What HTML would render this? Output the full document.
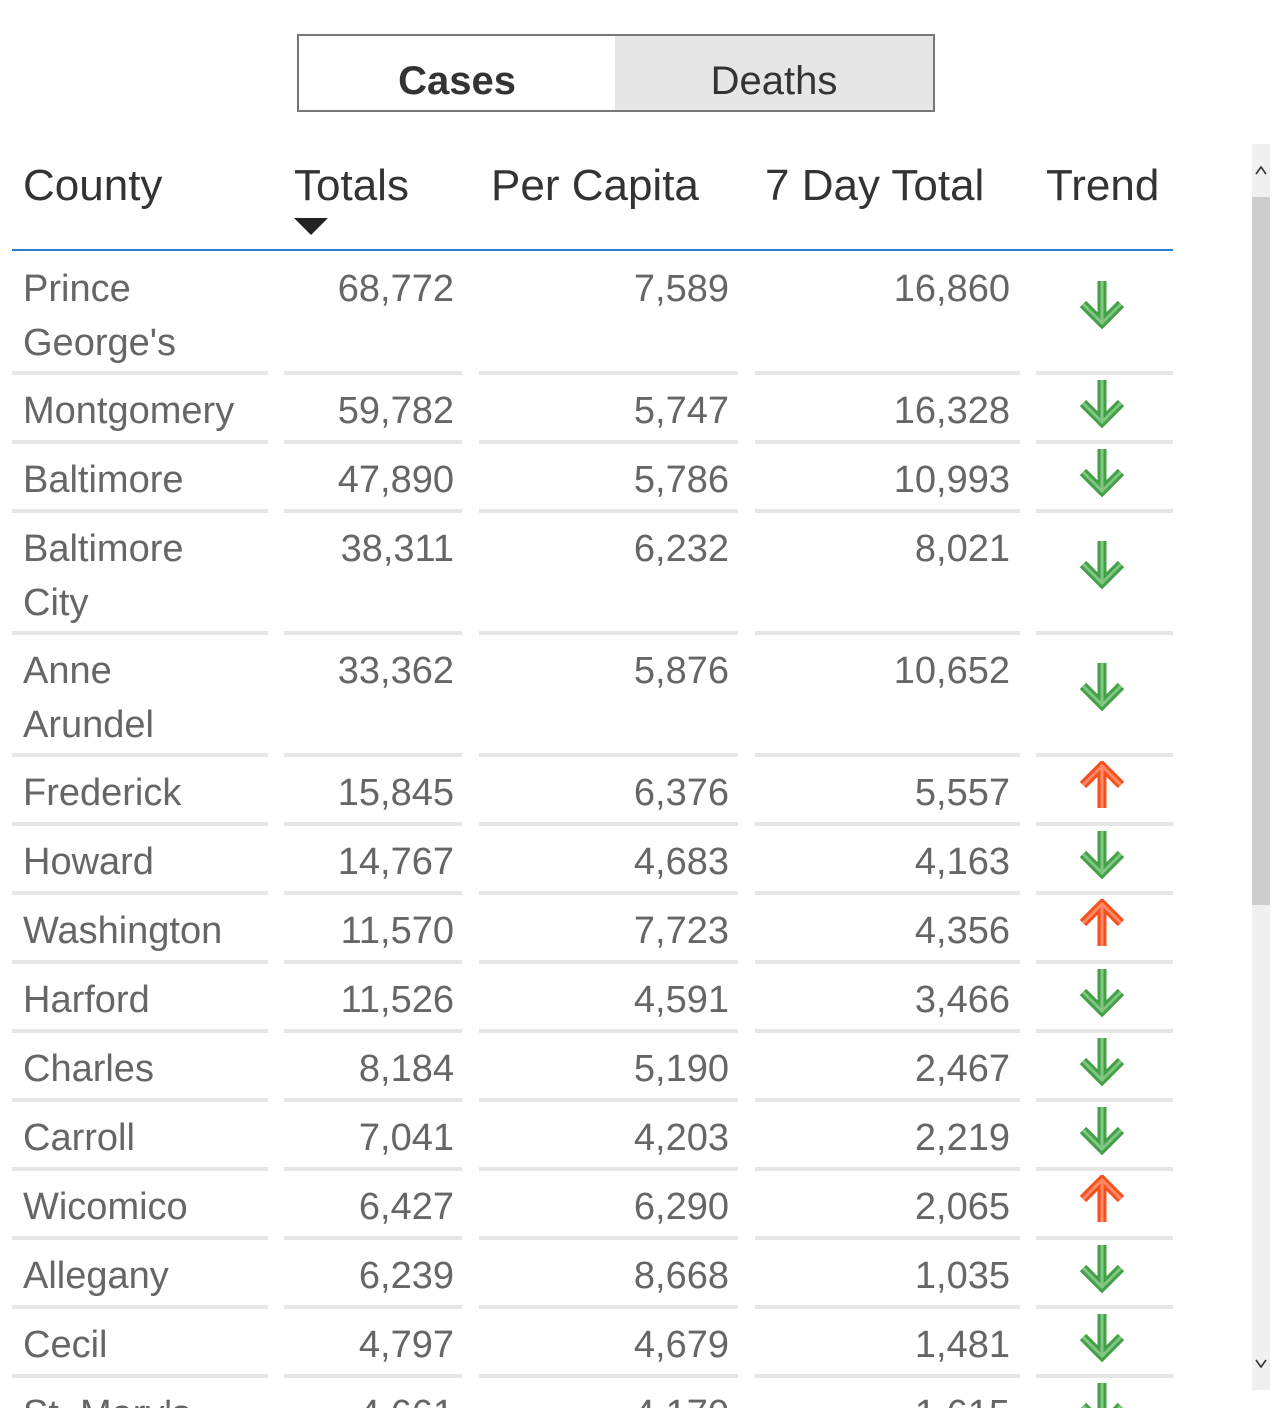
<!DOCTYPE html>
<html><head><meta charset="utf-8">
<style>
html,body{margin:0;padding:0;background:#fff;}
body{width:1280px;height:1418px;position:relative;overflow:hidden;font-family:"Liberation Sans",sans-serif;}
.abs{position:absolute;}
.btn{position:absolute;top:34px;height:74px;border:2px solid #777;box-sizing:content-box;font-size:40px;color:#333;text-align:center;line-height:90px;}
.hdr{position:absolute;top:161px;font-size:44px;color:#333;white-space:nowrap;}
.cell{position:absolute;font-size:38px;color:#666;line-height:54px;white-space:nowrap;}
.num{text-align:right;}
.sep{position:absolute;height:4px;background:#e6e6e6;}
#tbl{position:absolute;left:0;top:0;width:1250px;height:1408px;overflow:hidden;}
</style></head><body>
<div class="btn" style="left:297px;width:316px;background:#fff;font-weight:bold;">Cases</div>
<div class="btn" style="left:615px;width:318px;background:#e6e6e6;border-left:none;">Deaths</div>
<div id="tbl">
<div class="hdr" style="left:23px;">County</div>
<div class="hdr" style="left:294px;">Totals</div>
<svg class="abs" style="left:294px;top:218px" width="34" height="18"><polygon points="0,0 34,0 17,17" fill="#222"/></svg>
<div class="hdr" style="left:491px;">Per Capita</div>
<div class="hdr" style="left:765px;">7 Day Total</div>
<div class="hdr" style="left:1046px;">Trend</div>
<div class="abs" style="left:12px;top:249px;width:1161px;height:2px;background:#2b7bc8;"></div>
</div>
<div class="abs" style="left:1252px;top:144px;width:18px;height:1246px;background:#f0f0f0;"></div>
<div class="abs" style="left:1252px;top:197px;width:18px;height:708px;background:#cdcdcd;"></div>
<svg class="abs" style="left:1254px;top:164px" width="14" height="12"><polyline points="2,10 7,3 12,10" fill="none" stroke="#333" stroke-width="1.6"/></svg>
<svg class="abs" style="left:1254px;top:1358px" width="14" height="12"><polyline points="2,2 7,9 12,2" fill="none" stroke="#333" stroke-width="1.6"/></svg>
<script>
const counties=[["Prince","George's"],["Montgomery"],["Baltimore"],["Baltimore","City"],["Anne","Arundel"],["Frederick"],["Howard"],["Washington"],["Harford"],["Charles"],["Carroll"],["Wicomico"],["Allegany"],["Cecil"],["St. Mary's"]];
const totals=["68,772","59,782","47,890","38,311","33,362","15,845","14,767","11,570","11,526","8,184","7,041","6,427","6,239","4,797","4,661"];
const perCapita=["7,589","5,747","5,786","6,232","5,876","6,376","4,683","7,723","4,591","5,190","4,203","6,290","8,668","4,679","4,170"];
const sevenDay=["16,860","16,328","10,993","8,021","10,652","5,557","4,163","4,356","3,466","2,467","2,219","2,065","1,035","1,481","1,615"];
const trend=["down","down","down","down","down","up","down","up","down","down","down","up","down","down","down"];
const tbl=document.getElementById('tbl');
const cols=[[12,256],[284,178],[479,259],[755,265],[1036,137]];
let y=253;
function add(html,cls,left,top,w,extra){const d=document.createElement('div');d.className=cls;d.style.left=left+'px';d.style.top=top+'px';if(w)d.style.width=w+'px';if(extra)d.style.cssText+=extra;d.innerHTML=html;tbl.appendChild(d);return d;}
for(let i=0;i<counties.length;i++){
  const lines=counties[i].length;
  const h=lines>1?122:69;
  const c=add(counties[i].join('<br>'),'cell',23,y+9);
  
  
  const t=add(totals[i],'cell num',284,y+9,170);
  
  
  const p=add(perCapita[i],'cell num',479,y+9,250);
  
  
  const s=add(sevenDay[i],'cell num',755,y+9,255);
  
  
  const up=trend[i]==='up';
  const ay=lines>1?y+27:y+4;
  const col=up?'#f4511e':'#43a047',inner=up?'#ff8a65':'#81c784';
  const pts=up?'M24,47 L24,4 M5,24 L24,5 L43,24':'M24,1 L24,44 M5,24 L24,43 L43,24';
  const a=document.createElementNS('http://www.w3.org/2000/svg','svg');
  a.setAttribute('width','48');a.setAttribute('height','50');
  a.style.cssText='position:absolute;left:1078px;top:'+ay+'px';
  a.innerHTML='<path d="'+pts+'" fill="none" stroke="'+col+'" stroke-width="9" stroke-linecap="butt"/><path d="'+pts+'" fill="none" stroke="'+inner+'" stroke-width="3"/>';
  
  
  tbl.appendChild(a);
  y+=h;
  for(const [l,w] of cols){
    const sp=add('','sep',l,y-4,w);
    
    
  }
}
</script>
</body></html>
